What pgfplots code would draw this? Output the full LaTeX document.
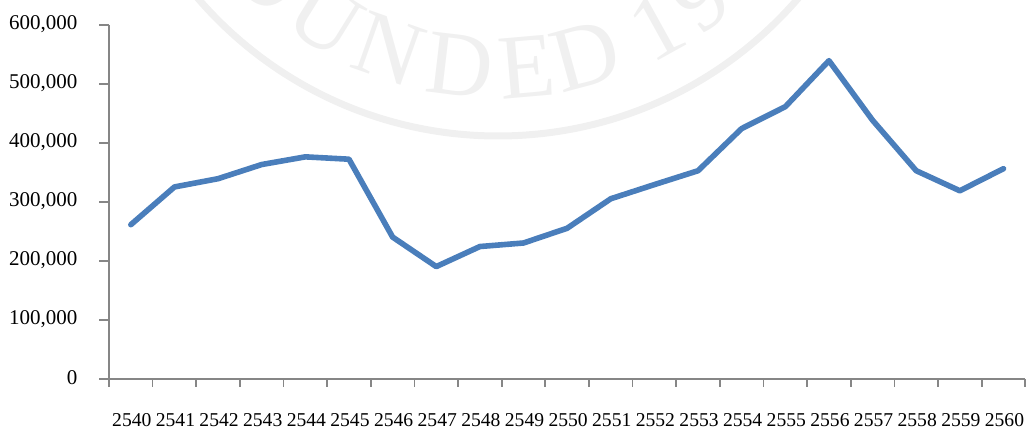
\documentclass[border=0pt]{standalone}
\usepackage{pgfplots}
\pgfplotsset{compat=1.18}
\usepackage{fontspec}
\setmainfont{Liberation Serif}
\usetikzlibrary{calc}
\definecolor{wm}{HTML}{F0F0F0}
\definecolor{axisgrey}{HTML}{868686}
\definecolor{lineblue}{HTML}{4A7EBB}
\begin{document}
\begin{tikzpicture}[x=1pt,y=1pt]
\path[use as bounding box] (0,0) rectangle (1027,430);
\begin{scope}
\clip (0,0) rectangle (1027,430);
\draw[wm,line width=7pt] (498,690) circle[radius=396];
\foreach \ang/\ch in {-44.5/O,-31.8/U,-19.4/N,-6.7/D,5/E,15.4/D,29/1,38/9}{
  \node[text=wm,inner sep=0pt,rotate=\ang,font=\fontsize{92}{92}\selectfont]
    at ($(498,690)+(270+\ang:328)$) {\ch};
}
\end{scope}
\begin{axis}[
  at={(109pt,51.3pt)},anchor=origin,
  scale only axis,width=916.3pt,height=354pt,
  xmin=0,xmax=21,ymin=0,ymax=600000,
  axis x line*=bottom,axis y line*=left,
  axis line style={axisgrey,line width=1.7pt,-},
  tick align=outside,
  xtick={0.5,1.5,2.5,3.5,4.5,5.5,6.5,7.5,8.5,9.5,10.5,11.5,12.5,13.5,14.5,15.5,16.5,17.5,18.5,19.5,20.5},
  xticklabels={2540,2541,2542,2543,2544,2545,2546,2547,2548,2549,2550,2551,2552,2553,2554,2555,2556,2557,2558,2559,2560},
  minor xtick={0,1,...,21},
  major x tick style={draw=none},
  minor x tick style={draw=axisgrey,line width=1.7pt},
  minor tick length=8pt,
  major tick length=10pt,
  ytick={0,100000,200000,300000,400000,500000,600000},
  major y tick style={draw=axisgrey,line width=1.7pt},
  scaled y ticks=false,
  yticklabel style={/pgf/number format/fixed,/pgf/number format/1000 sep={,},/pgf/number format/assume math mode=true},
  yticklabel style={font=\fontsize{21}{21}\selectfont,text=black,xshift=-18pt,yshift=0.8pt},
  xticklabel style={font=\fontsize{19.6}{19.6}\selectfont,text=black,yshift=-21.5pt,xshift=1pt,inner xsep=0pt},
  clip=false,
]
\addplot[lineblue,line width=5.6pt,line join=round,line cap=round,no marks] coordinates {
(0.5,261000)(1.5,325000)(2.5,339000)(3.5,363000)(4.5,376000)(5.5,372000)(6.5,240000)
(7.5,190000)(8.5,224000)(9.5,230000)(10.5,255000)(11.5,305000)(12.5,329000)(13.5,352500)
(14.5,424000)(15.5,461000)(16.5,539000)(17.5,438000)(18.5,352500)(19.5,318500)(20.5,356000)};
\end{axis}
\end{tikzpicture}
\end{document}
